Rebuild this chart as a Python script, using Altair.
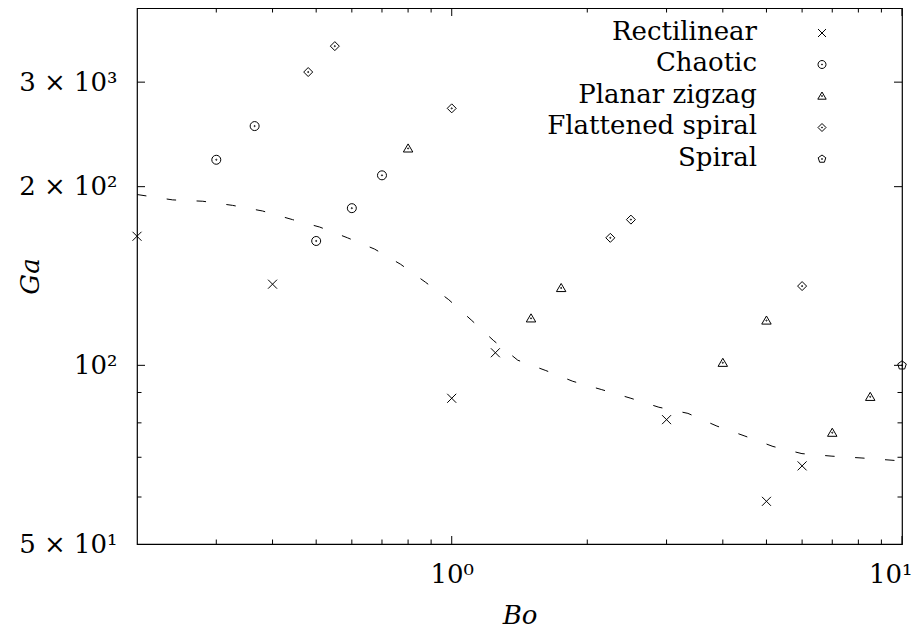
import altair as alt
import pandas as pd

# ---------------- data ----------------
series_names = ["Rectilinear", "Chaotic", "Planar zigzag", "Flattened spiral", "Spiral"]

rect_bo = [0.2, 0.4, 1.0, 1.25, 3.0, 5.0, 6.0]
rect_ga = [165, 137, 88, 105, 81, 59, 67.7]
chaotic_bo = [0.3, 0.365, 0.5, 0.6, 0.7]
chaotic_ga = [222, 253, 162, 184, 209]
zigzag_bo = [0.8, 1.5, 1.75, 4.0, 5.0, 7.0, 8.5]
zigzag_ga = [232, 120, 135, 101, 119, 77, 88.5]
flat_bo = [0.48, 0.55, 1.0, 2.25, 2.5, 6.0]
flat_ga = [312, 345, 271, 164, 176, 136]
spiral_bo = [10.0]
spiral_ga = [100]

curve_bo = [0.2, 0.24, 0.28, 0.326, 0.38, 0.443, 0.509, 0.587, 0.674, 0.77, 0.875,
            0.985, 1.108, 1.24, 1.402, 1.618, 1.857, 2.154, 2.5, 2.884, 3.346, 3.881,
            4.479, 5.169, 5.995, 6.989, 8.149, 9.501, 10.0]
curve_ga = [194, 190, 189, 186, 182, 176, 171, 164, 157, 148, 138,
            129, 119, 110, 102, 98, 94, 91, 88, 85, 83, 79,
            76, 73, 71, 70.3, 69.8, 69.2, 69.0]

x_tick_values = [1, 10]
x_tick_labels = ["10\u2070", "10\u00b9"]
x_minor_ticks = [0.3, 0.4, 0.5, 0.6, 0.7, 0.8, 0.9, 2, 3, 4, 5, 6, 7, 8, 9]
y_tick_values = [50, 100, 200, 300]
y_tick_labels = ["5 \u00d7 10\u00b9", "10\u00b2", "2 \u00d7 10\u00b2", "3 \u00d7 10\u00b3"]
y_major_ticks = [100, 200, 300]
y_minor_ticks = [60, 70, 80, 90]

# ---------------- styling ----------------
W, H = 765, 536
FONT = "DejaVu Serif"
FS = 26
MAJ, MIN = 8, 4.5

DOT = "M-0.13,0A0.13,0.13,0,1,1,0.13,0A0.13,0.13,0,1,1,-0.13,0Z"
shape_paths = [
    "M-1,-1L1,1M-1,1L1,-1",
    "M-1,0A1,1,0,1,1,1,0A1,1,0,1,1,-1,0Z" + DOT,
    "M0,-1L1.05,0.8L-1.05,0.8Z" + DOT,
    "M0,-1L1,0L0,1L-1,0Z" + DOT,
    "M0,-1L0.951,-0.309L0.588,0.809L-0.588,0.809L-0.951,-0.309Z" + DOT,
]
shape_scale = alt.Scale(domain=series_names, range=shape_paths)

def label_expr(values, labels):
    expr = "''"
    for v, l in reversed(list(zip(values, labels))):
        expr = f"datum.value == {v} ? '{l}' : ({expr})"
    return expr

xscale = alt.Scale(type="log", domain=[0.2, 10], nice=False)
yscale = alt.Scale(type="log", domain=[50, 400], nice=False)
xaxis = alt.Axis(values=x_tick_values, labelExpr=label_expr(x_tick_values, x_tick_labels),
                 ticks=False, tickSize=0, domain=False, grid=False, labelPadding=17,
                 title="Bo", titleX=W / 2, titleY=79, titleBaseline="alphabetic",
                 titleAlign="center", labelFlush=True, labelFlushOffset=10,
                 labelOverlap=False)
yaxis = alt.Axis(values=y_tick_values, labelExpr=label_expr(y_tick_values, y_tick_labels),
                 ticks=False, tickSize=0, domain=False, grid=False, labelPadding=20,
                 title="Ga", titleX=-99, titleY=H / 2, titleAngle=270,
                 titleBaseline="alphabetic", titleAlign="center",
                 labelFlush=False, labelOverlap=False)

def X(field):
    return alt.X(f"{field}:Q", scale=xscale, axis=xaxis)

def Y(field):
    return alt.Y(f"{field}:Q", scale=yscale, axis=yaxis)

# ---------------- tables ----------------
rows = []
for name, bos, gas in zip(series_names,
                          [rect_bo, chaotic_bo, zigzag_bo, flat_bo, spiral_bo],
                          [rect_ga, chaotic_ga, zigzag_ga, flat_ga, spiral_ga]):
    for b, g in zip(bos, gas):
        rows.append({"series": name, "Bo": b, "Ga": g})
pts_df = pd.DataFrame(rows)
curve_df = pd.DataFrame({"Bo": curve_bo, "Ga": curve_ga})

layers = []

# ticks (inward, on all four sides)
for vals, length in [(x_tick_values, MAJ), (x_minor_ticks, MIN)]:
    df = pd.DataFrame({"Bo": vals})
    layers.append(alt.Chart(df).mark_rule(color="black", strokeWidth=1).encode(
        x=X("Bo"), y=alt.value(H), y2=alt.value(H - length)))
    layers.append(alt.Chart(df).mark_rule(color="black", strokeWidth=1).encode(
        x=X("Bo"), y=alt.value(0), y2=alt.value(length)))
for vals, length in [(y_major_ticks, MAJ), (y_minor_ticks, MIN)]:
    df = pd.DataFrame({"Ga": vals})
    layers.append(alt.Chart(df).mark_rule(color="black", strokeWidth=1).encode(
        y=Y("Ga"), x=alt.value(0), x2=alt.value(length)))
    layers.append(alt.Chart(df).mark_rule(color="black", strokeWidth=1).encode(
        y=Y("Ga"), x=alt.value(W), x2=alt.value(W - length)))

curve = alt.Chart(curve_df).mark_line(color="black", strokeWidth=1, strokeDash=[9.5, 20.5]).encode(
    x=X("Bo"), y=Y("Ga"), order=alt.Order("Bo:Q"))
layers.append(curve)

points = alt.Chart(pts_df).mark_point(filled=False, color="black", strokeWidth=1,
                                      size=81, opacity=1).encode(
    x=X("Bo"), y=Y("Ga"),
    shape=alt.Shape("series:N", scale=shape_scale, legend=None))
layers.append(points)

main = alt.layer(*layers)

# manual legend (labels right-aligned, symbols on the right)
leg_df = pd.DataFrame({"series": series_names})
legy = alt.Y("series:N", scale=alt.Scale(type="point", domain=series_names,
                                          range=[25, 151], padding=0), axis=None)
leg_text = alt.Chart(leg_df).mark_text(align="right", baseline="alphabetic", dy=6.6,
                                       font=FONT, fontSize=FS, color="black").encode(
    x=alt.value(620), y=legy, text="series:N")
leg_sym = alt.Chart(leg_df).mark_point(filled=False, color="black", strokeWidth=1,
                                       size=64, opacity=1).encode(
    x=alt.value(685), y=legy,
    shape=alt.Shape("series:N", scale=shape_scale, legend=None))
legend = alt.layer(leg_text, leg_sym)

chart = alt.layer(main, legend).resolve_scale(y="independent").properties(
    width=W, height=H,
    autosize=alt.AutoSizeParams(type="none"),
    padding={"left": 129, "top": 0, "right": 14, "bottom": 84},
    background="white",
).configure_view(stroke="black", strokeWidth=1.2).configure_axis(
    labelFont=FONT, labelFontSize=FS, labelColor="black",
    titleFont=FONT, titleFontSize=FS, titleColor="black",
    titleFontStyle="italic", titleFontWeight="normal",
)

chart.save("out.html", embed_options={"renderer": "svg", "actions": False})
